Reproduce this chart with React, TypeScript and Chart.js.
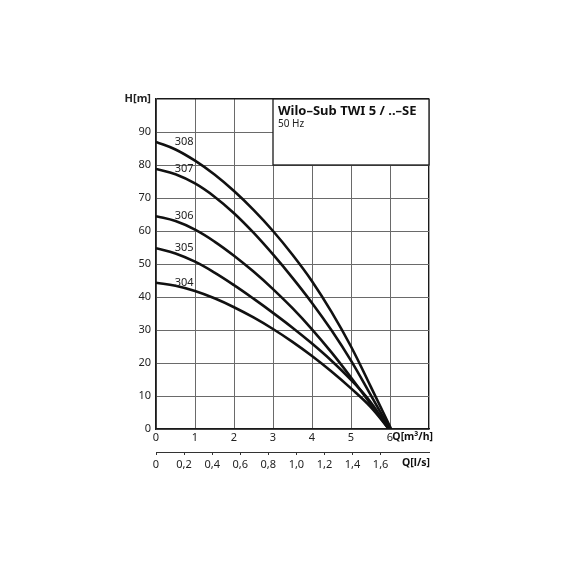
import { useEffect, useRef } from 'react';
import { Chart, registerables } from 'chart.js';

Chart.register(...registerables);

// ---- data (Q in m³/h, H in m) ----
const SERIES_NAMES = ['308', '307', '306', '305', '304'];

const Q_308 = [0, 0.5, 1, 1.5, 2, 2.5, 3, 3.5, 4, 4.5, 5, 5.5, 6.03];
const H_308 = [87, 84.7, 81.3, 77.1, 72.1, 66.4, 60, 52.8, 44.8, 35.5, 25, 13, 0];

const Q_307 = [0, 0.5, 1, 1.5, 2, 2.5, 3, 3.5, 4, 4.5, 5, 5.5, 6.0];
const H_307 = [78.8, 77.2, 74.4, 70.4, 65.4, 59.5, 52.9, 45.8, 38.2, 29.9, 20.7, 10.4, 0];

const Q_306 = [0, 0.5, 1, 1.5, 2, 2.5, 3, 3.5, 4, 4.5, 5, 5.5, 5.97];
const H_306 = [64.5, 63, 60.4, 56.8, 52.5, 47.7, 42.4, 36.6, 30.2, 23.2, 15.6, 7.6, 0];

const Q_305 = [0, 0.5, 1, 1.5, 2, 2.5, 3, 3.5, 4, 4.5, 5, 5.5, 5.97];
const H_305 = [54.8, 53.2, 50.7, 47.4, 43.6, 39.5, 35.2, 30.7, 25.9, 20.7, 14.9, 8.2, 0];

const Q_304 = [0, 0.5, 1, 1.5, 2, 2.5, 3, 3.5, 4, 4.5, 5, 5.5, 5.97];
const H_304 = [44.3, 43.4, 41.8, 39.6, 36.9, 33.8, 30.3, 26.4, 22.1, 17.4, 12.3, 6.7, 0];

const SERIES_Q = [Q_308, Q_307, Q_306, Q_305, Q_304];
const SERIES_H = [H_308, H_307, H_306, H_305, H_304];

const Q_MAX = 7; // m³/h
const H_MAX = 100; // m
const LS_PER_M3H = 1 / 3.6;
const LS_TICK_LIMIT = 1.6;

const TITLE = 'Wilo–Sub TWI 5 / ..–SE';
const SUBTITLE = '50 Hz';
const BOX_Q_FROM = 3;
const BOX_H_FROM = 80;
const LABEL_Q = 0.72;
const UNIT_Q_M3H = 'Q[m³/h]';
const UNIT_Q_LS = 'Q[l/s]';
const UNIT_H = 'H[m]';

const FONT = "'Noto Sans', 'DejaVu Sans', sans-serif";
const TEXT = '#222';

const deco = {
  id: 'deco',
  beforeDatasetsDraw(chart: any) {
    const { ctx, scales, chartArea } = chart;
    const x = scales.x;
    const y = scales.y;
    const left = x.getPixelForValue(BOX_Q_FROM);
    const top = chartArea.top;
    const right = chartArea.right;
    const bottom = y.getPixelForValue(BOX_H_FROM);
    ctx.save();
    ctx.fillStyle = '#fff';
    ctx.fillRect(left, top, right - left, bottom - top);
    ctx.strokeStyle = '#1a1a1a';
    ctx.lineWidth = 1.3;
    ctx.strokeRect(left, top, right - left, bottom - top);
    ctx.fillStyle = '#111';
    ctx.textAlign = 'left';
    ctx.textBaseline = 'middle';
    ctx.font = `bold 13px ${FONT}`;
    ctx.fillText(TITLE, left + 5, top + 12);
    ctx.font = `10px ${FONT}`;
    ctx.fillStyle = TEXT;
    ctx.fillText(SUBTITLE, left + 5, top + 25);
    ctx.restore();
  },
  afterDatasetsDraw(chart: any) {
    const { ctx, scales, chartArea } = chart;
    const x = scales.x;
    const y = scales.y;
    const x2 = scales.x2;
    ctx.save();
    ctx.fillStyle = TEXT;
    ctx.font = `11px ${FONT}`;
    ctx.textAlign = 'center';
    ctx.textBaseline = 'middle';
    SERIES_NAMES.forEach((name, i) => {
      const px = x.getPixelForValue(LABEL_Q);
      const py = y.getPixelForValue(SERIES_H[i][0]);
      ctx.fillText(name, px, py);
    });
    ctx.font = `bold 10.5px ${FONT}`;
    ctx.textAlign = 'right';
    ctx.fillStyle = '#111';
    ctx.fillText(UNIT_Q_M3H, chartArea.right + 4, x.top + 8);
    ctx.fillText(UNIT_Q_LS, chartArea.right + 1, x2.top + 11);
    ctx.restore();
  },
};

export default function App() {
  const ref = useRef<HTMLCanvasElement | null>(null);

  useEffect(() => {
    if (!ref.current) return;
    const datasets = SERIES_NAMES.map((name, i) => ({
      label: name,
      data: SERIES_Q[i].map((q, j) => ({ x: q, y: SERIES_H[i][j] })),
      borderColor: '#111',
      borderWidth: 2.6,
      pointRadius: 0,
      fill: false,
      tension: 0.4,
    }));

    const chart = new Chart(ref.current, {
      type: 'line',
      data: { datasets },
      plugins: [deco],
      options: {
        animation: false,
        responsive: false,
        layout: { padding: { left: 116, top: 99, right: 141, bottom: 93 } },
        plugins: { legend: { display: false }, tooltip: { enabled: false } },
        scales: {
          x: {
            type: 'linear',
            position: 'bottom',
            weight: 0,
            min: 0,
            max: Q_MAX,
            afterFit: (s: any) => {
              s.height = 23;
            },
            ticks: {
              stepSize: 1,
              padding: 2,
              color: TEXT,
              font: { family: FONT, size: 11 },
              maxRotation: 0,
              callback: (v: any) => (v >= Q_MAX ? '' : String(v)),
            },
            grid: {
              color: (c: any) => (c.tick && c.tick.value === Q_MAX ? '#1a1a1a' : '#6a6a6a'),
              lineWidth: (c: any) => (c.tick && c.tick.value === Q_MAX ? 1.4 : 1),
              drawTicks: false,
            },
            border: { display: true, color: '#1a1a1a', width: 1.5 },
          },
          x2: {
            type: 'linear',
            position: 'bottom',
            weight: 1,
            min: 0,
            max: Q_MAX * LS_PER_M3H,
            afterFit: (s: any) => {
              s.height = 25;
            },
            afterBuildTicks: (s: any) => {
              s.ticks = s.ticks.filter((t: any) => t.value <= LS_TICK_LIMIT + 0.01);
            },
            ticks: {
              stepSize: 0.2,
              padding: 3,
              color: TEXT,
              font: { family: FONT, size: 11 },
              maxRotation: 0,
              autoSkip: false,
              callback: (v: any) => (v === 0 ? '0' : Number(v).toFixed(1).replace('.', ',')),
            },
            grid: {
              drawOnChartArea: false,
              drawTicks: true,
              tickLength: 3,
              color: '#333',
              lineWidth: 1,
            },
            border: { display: true, color: '#333', width: 1 },
          },
          y: {
            type: 'linear',
            min: 0,
            max: H_MAX,
            afterFit: (s: any) => {
              s.width = 40;
            },
            ticks: {
              stepSize: 10,
              padding: 5,
              color: TEXT,
              font: (c: any) => ({
                family: FONT,
                size: 11,
                weight: c.tick && c.tick.value === H_MAX ? 'bold' : 'normal',
              }),
              callback: (v: any) => (v === H_MAX ? UNIT_H : String(v)),
            },
            grid: {
              color: (c: any) => (c.tick && c.tick.value === H_MAX ? '#1a1a1a' : '#6a6a6a'),
              lineWidth: (c: any) => (c.tick && c.tick.value === H_MAX ? 1.4 : 1),
              drawTicks: false,
            },
            border: { display: true, color: '#1a1a1a', width: 1.5 },
          },
        },
      },
    });
    return () => chart.destroy();
  }, []);

  return (
    <div style={{ position: 'absolute', left: 0, top: 0, width: 570, height: 570, background: '#fff' }}>
      <canvas ref={ref} width={570} height={570} style={{ display: 'block' }} />
    </div>
  );
}
